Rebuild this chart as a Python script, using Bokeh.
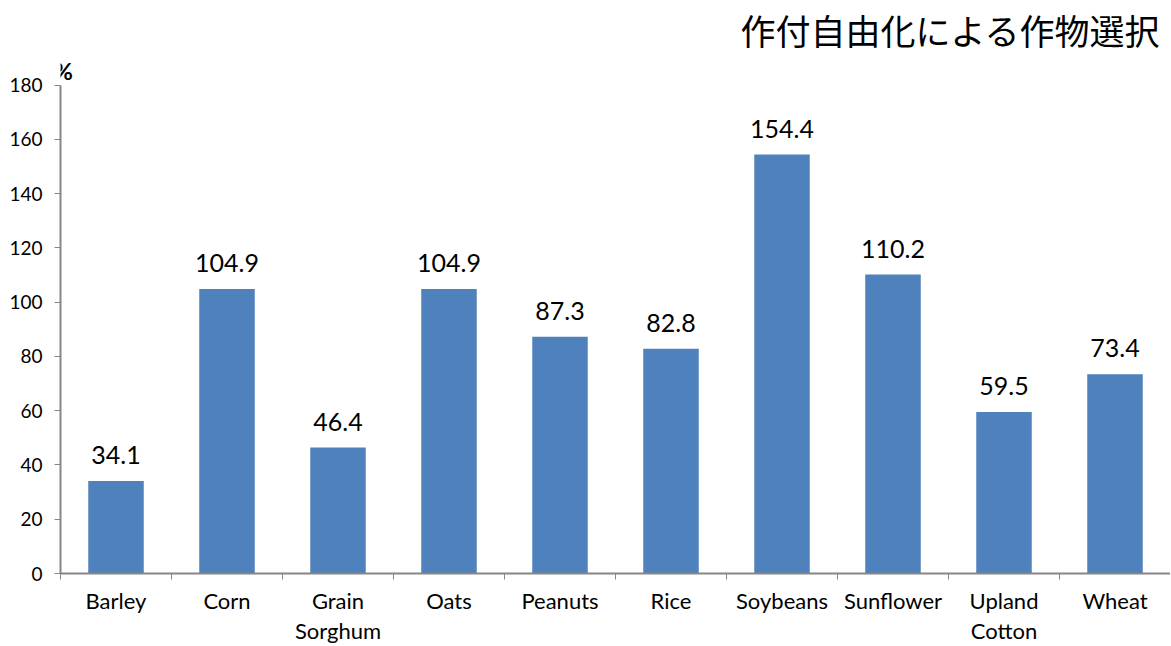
from bokeh.plotting import figure
from bokeh.models import ColumnDataSource, FixedTicker, Range1d
from bokeh.embed import file_html
from bokeh.resources import INLINE
from bokeh.core.properties import value

categories = ["Barley", "Corn", "Grain\nSorghum", "Oats", "Peanuts", "Rice",
              "Soybeans", "Sunflower", "Upland\nCotton", "Wheat"]
values = [34.1, 104.9, 46.4, 104.9, 87.3, 82.8, 154.4, 110.2, 59.5, 73.4]
y_ticks = [0, 20, 40, 60, 80, 100, 120, 140, 160, 180]
title_text = "作付自由化による作物選択"
unit_text = "%"

FONT = "Lato"
AXIS_COLOR = "#868686"
BAR_COLOR = "#4F81BD"

Y_MAX = 180
Y_TOP = 211.2   # frame extends above the axis top to hold the title and unit

centers = [i + 0.5 for i in range(len(categories))]
bounds = [float(i) for i in range(len(categories) + 1)]

src = ColumnDataSource(dict(x=centers, top=values,
                            label=[f"{v:.1f}" for v in values]))

p = figure(width=1170, height=646, output_backend="svg", toolbar_location=None,
           x_range=Range1d(0, len(categories)), y_range=Range1d(0, Y_TOP),
           min_border_left=60, min_border_right=0, min_border_top=0,
           min_border_bottom=70)
p.outline_line_color = None
p.xgrid.grid_line_color = None
p.ygrid.grid_line_color = None

p.vbar(x="x", top="top", width=0.5, source=src, fill_color=BAR_COLOR,
       line_color=None)
p.text(x="x", y="top", text="label", source=src, text_align="center",
       text_baseline="alphabetic", y_offset=-26, text_font=value(FONT),
       text_font_size="25px", text_color="#000000")

# title and unit, anchored to the plot's right edge / axis top
p.text(x=[len(categories)], y=[Y_MAX], text=[title_text], text_align="right",
       text_baseline="alphabetic", x_offset=-10, y_offset=-56,
       text_font=value("Noto Sans CJK JP"), text_font_size="35px",
       text_color="#000000")
p.text(x=[0], y=[Y_MAX], text=[unit_text], text_align="center",
       text_baseline="alphabetic", x_offset=3, y_offset=-14,
       text_font=value(FONT), text_font_size="23px", text_font_style="bold",
       text_color="#000000")

# y axis
p.yaxis.ticker = FixedTicker(ticks=y_ticks)
p.yaxis.bounds = (0, Y_MAX)
p.yaxis.axis_line_color = AXIS_COLOR
p.yaxis.axis_line_width = 2
p.yaxis.major_tick_line_color = AXIS_COLOR
p.yaxis.major_tick_in = 0
p.yaxis.major_tick_out = 6
p.yaxis.minor_tick_line_color = None
p.yaxis.major_label_text_font = FONT
p.yaxis.major_label_text_font_size = "19px"
p.yaxis.major_label_text_color = "#000000"
p.yaxis.major_label_standoff = 12

# x axis: labels at centers, ticks at category boundaries
p.xaxis.ticker = FixedTicker(ticks=centers, minor_ticks=bounds)
p.xaxis.major_label_overrides = {c: n for c, n in zip(centers, categories)}
p.xaxis.axis_line_color = AXIS_COLOR
p.xaxis.axis_line_width = 2
p.xaxis.major_tick_line_color = None
p.xaxis.minor_tick_line_color = AXIS_COLOR
p.xaxis.minor_tick_in = 0
p.xaxis.minor_tick_out = 6
p.xaxis.major_label_text_font = FONT
p.xaxis.major_label_text_font_size = "22px"
p.xaxis.major_label_text_color = "#000000"
p.xaxis.major_label_standoff = 7
p.xaxis.major_label_text_line_height = 1.12

open("out.html", "w").write(file_html(p, INLINE))
